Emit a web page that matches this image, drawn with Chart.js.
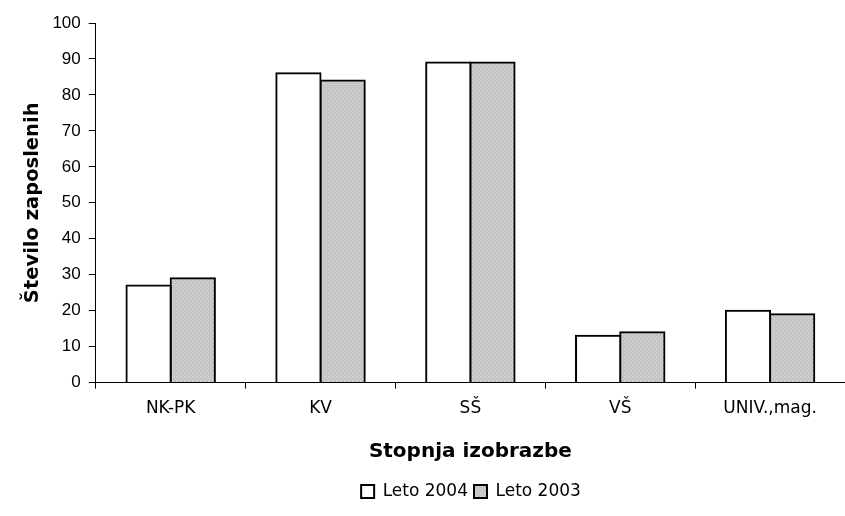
<!DOCTYPE html>
<html>
<head>
<meta charset="utf-8">
<script src="https://cdn.jsdelivr.net/npm/chart.js@4"></script>
<style>
  html, body { margin: 0; padding: 0; background: #fff; }
  #wrap { width: 845px; height: 516px; }
</style>
</head>
<body>
<div id="wrap"><canvas id="chart" width="845" height="516"></canvas></div>
<script>
// data
const categories = ['NK-PK', 'KV', 'SŠ', 'VŠ', 'UNIV.,mag.'];
const leto2004 = [27, 86, 89, 13, 20];
const leto2003 = [29, 84, 89, 14, 19];
const seriesNames = ['Leto 2004', 'Leto 2003'];
const yTicks = [0, 10, 20, 30, 40, 50, 60, 70, 80, 90, 100];

// dotted grey fill like the old excel pattern
function makeDots() {
    const c = document.createElement('canvas');
    c.width = 4; c.height = 4;
    const g = c.getContext('2d');
    g.fillStyle = '#c4c4c4';
    g.fillRect(0, 0, 4, 4);
    g.fillStyle = '#e2e2e2';
    g.fillRect(0, 0, 1, 1);
    g.fillRect(2, 2, 1, 1);
    return g.createPattern(c, 'repeat');
}
const dots = makeDots();

// legend sits a bit right of centre in the original
const legendShift = {
    id: 'legendShift',
    afterLayout(chart) {
        chart.legend.left += 40;
        chart.legend.right += 40;
    }
};

const tahoma = 'Tahoma, "DejaVu Sans", sans-serif';
const arial = 'Arial, "Liberation Sans", sans-serif';

new Chart(document.getElementById('chart').getContext('2d'), {
    type: 'bar',
    data: {
        labels: categories,
        datasets: [{
            label: seriesNames[0],
            data: leto2004,
            backgroundColor: '#ffffff',
            borderColor: '#000000',
            borderWidth: 2,
            inflateAmount: 1
        }, {
            label: seriesNames[1],
            data: leto2003,
            backgroundColor: dots,
            borderColor: '#000000',
            borderWidth: 2,
            inflateAmount: 1
        }]
    },
    options: {
        responsive: false,
        animation: false,
        layout: { padding: { top: 23, right: 0, left: 17, bottom: 6 } },
        datasets: { bar: { categoryPercentage: 0.59, barPercentage: 1 } },
        plugins: {
            tooltip: { enabled: false },
            legend: {
                position: 'bottom',
                labels: {
                    boxWidth: 13, boxHeight: 13, padding: 6,
                    color: '#000',
                    font: { family: tahoma, size: 17 }
                }
            }
        },
        scales: {
            x: {
                grid: { offset: true, drawOnChartArea: false, tickLength: 6, color: '#000' },
                border: { color: '#000', width: 1 },
                ticks: { color: '#000', padding: 10, font: { family: tahoma, size: 17 } },
                title: {
                    display: true, text: 'Stopnja izobrazbe', color: '#000',
                    font: { family: tahoma, size: 20, weight: 'bold' },
                    padding: { top: 11, bottom: 13 }
                }
            },
            y: {
                min: 0, max: 100,
                afterBuildTicks: s => { s.ticks = yTicks.map(v => ({ value: v })); },
                grid: { drawOnChartArea: false, tickLength: 7, color: '#000' },
                border: { color: '#000', width: 1 },
                ticks: { color: '#000', padding: 8, font: { family: arial, size: 17 } },
                title: {
                    display: true, text: 'Število zaposlenih', color: '#000',
                    font: { family: tahoma, size: 19.5, weight: 'bold' },
                    padding: { bottom: 0 }
                }
            }
        }
    },
    plugins: [legendShift]
});
</script>
</body>
</html>
